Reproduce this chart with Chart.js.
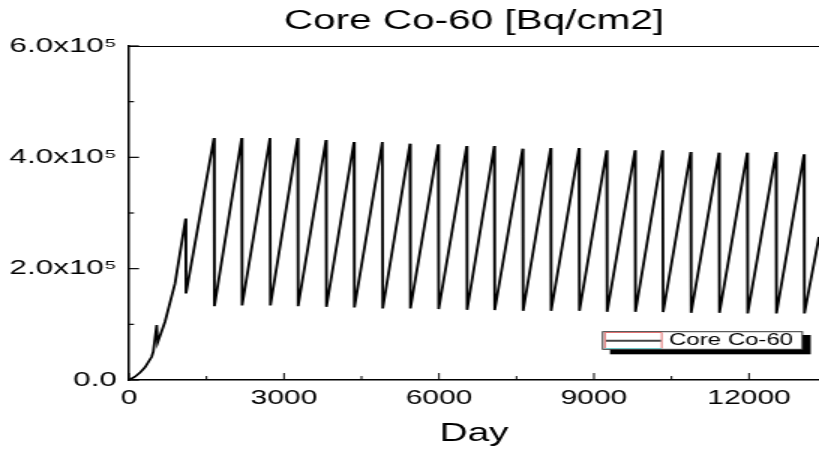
<!DOCTYPE html>
<html><head><meta charset="utf-8">
<script src="https://cdn.jsdelivr.net/npm/chart.js@4.4.1/dist/chart.umd.min.js"></script>
<style>html,body{margin:0;padding:0;background:#fff;overflow:hidden}</style>
</head><body>
<canvas id="c" width="546" height="451" style="width:819px;height:451px"></canvas>
<script>
// ---- data ----
const days = [0,116,220,310,439,470,536,555,697,890,1097,1103,
  1645,1653, 2181,2189, 2729,2737, 3265,3273, 3813,3821, 4355,4363,
  4903,4911, 5439,5447, 5986,5994, 6536,6544, 7070,7078, 7620,7628,
  8162,8170, 8710,8718, 9246,9254, 9794,9802, 10330,10338, 10872,10880,
  11420,11428, 11967,11975, 12523,12531, 13065,13073, 13355];
const coreCo60 = [0,5900,14000,22800,41800,50800,98700,67600,104600,173000,290000,155500,
  434600,132700, 434600,134000, 434600,134000, 434600,132700, 431000,131500, 427400,130400,
  427400,128600, 424600,128600, 423300,127400, 420300,126100, 420300,125600, 415600,124300,
  416700,124300, 416700,124300, 412600,122500, 412600,122500, 412600,122000, 409500,120700,
  408400,120700, 408400,119600, 409500,119600, 405400,119600, 257000];
const xTickValues = [0,3000,6000,9000,12000];
const xTickLabels = ['0','3000','6000','9000','12000'];
const xMinorTicks = [1500,4500,7500,10500];
const yTickValues = [0,200000,400000,600000];
const yTickLabels = ['0.0','2.0x10\u2075','4.0x10\u2075','6.0x10\u2075'];
const yMinorTicks = [100000,300000,500000];
const seriesLabel = 'Core Co-60';
const chartTitle = 'Core Co-60 [Bq/cm2]';
const xTitle = 'Day';

const SX = 1.5; // canvas is stretched horizontally by CSS, like the reference
const FONT = "'Liberation Sans', Arial, Helvetica, sans-serif";

const decor = {
  id: 'decor',
  afterDraw(chart) {
    const {ctx, chartArea: a, scales: {x, y}} = chart;
    ctx.save();
    ctx.strokeStyle = '#000';
    // top frame line
    ctx.lineWidth = 1.2;
    ctx.beginPath(); ctx.moveTo(a.left, a.top + 0.5); ctx.lineTo(a.right, a.top + 0.5); ctx.stroke();
    // inward ticks on y
    y.ticks.forEach(t => {
      const major = yTickValues.includes(t.value);
      const py = y.getPixelForValue(t.value);
      const len = (major ? 10 : 5) / SX;
      ctx.lineWidth = 1.2;
      ctx.beginPath(); ctx.moveTo(a.left, py); ctx.lineTo(a.left + len, py); ctx.stroke();
    });
    // inward ticks on x
    x.ticks.forEach(t => {
      const major = xTickValues.includes(t.value);
      const px = x.getPixelForValue(t.value);
      const len = major ? 7 : 4;
      ctx.lineWidth = 1;
      ctx.beginPath(); ctx.moveTo(px, a.bottom); ctx.lineTo(px, a.bottom - len); ctx.stroke();
    });
    // legend with shadow
    const lx0 = 602.7 / SX, lx1 = 802.3 / SX, ly0 = 331.7, ly1 = 349.3;
    ctx.fillStyle = '#000';
    ctx.fillRect(610 / SX, 335, (810.7 - 610) / SX, 354.3 - 335);
    ctx.fillStyle = '#fff';
    ctx.fillRect(lx0, ly0, lx1 - lx0, ly1 - ly0);
    ctx.lineWidth = 1; ctx.strokeStyle = '#333';
    ctx.strokeRect(lx0, ly0, lx1 - lx0, ly1 - ly0);
    ctx.strokeStyle = '#e07070';
    ctx.beginPath();
    ctx.moveTo(605 / SX, 348.5); ctx.lineTo(605 / SX, 332.5); ctx.lineTo(661.7 / SX, 332.5); ctx.lineTo(661.7 / SX, 348.5);
    ctx.stroke();
    ctx.strokeStyle = '#70c8c8';
    ctx.beginPath(); ctx.moveTo(605 / SX, 348.5); ctx.lineTo(661.7 / SX, 348.5); ctx.stroke();
    ctx.strokeStyle = '#444'; ctx.lineWidth = 2;
    ctx.beginPath(); ctx.moveTo(606 / SX, 340.7); ctx.lineTo(661 / SX, 340.7); ctx.stroke();
    ctx.fillStyle = '#000';
    ctx.font = '16px ' + FONT;
    ctx.textBaseline = 'middle';
    ctx.textAlign = 'left';
    ctx.fillText(chart.data.datasets[0].label, 669 / SX, 341);
    ctx.restore();
  }
};

new Chart(document.getElementById('c'), {
  type: 'line',
  data: {
    datasets: [{
      label: seriesLabel,
      data: days.map((d, i) => ({x: d, y: coreCo60[i]})),
      borderColor: '#000',
      borderWidth: 1.8,
      pointRadius: 0,
      tension: 0,
      fill: false
    }]
  },
  options: {
    responsive: false,
    animation: false,
    devicePixelRatio: 1,
    layout: {padding: 0},
    plugins: {
      legend: {display: false},
      tooltip: {enabled: false},
      title: {
        display: true, text: chartTitle, fullSize: false, color: '#000',
        font: {family: FONT, size: 27, weight: 'normal'},
        padding: {top: 5, bottom: 8.6}
      }
    },
    scales: {
      x: {
        type: 'linear', min: 0, max: 13355,
        afterFit(s) { s.height = 71; },
        afterBuildTicks(s) {
          s.ticks = xTickValues.concat(xMinorTicks).sort((p, q) => p - q).map(v => ({value: v}));
        },
        grid: {display: false, drawTicks: false},
        border: {display: true, color: '#000', width: 1.5},
        ticks: {
          autoSkip: false, maxRotation: 0, minRotation: 0,
          padding: 6, color: '#000', font: {family: FONT, size: 20},
          callback: (v) => { const i = xTickValues.indexOf(v); return i >= 0 ? xTickLabels[i] : ''; }
        },
        title: {display: true, text: xTitle, color: '#000', font: {family: FONT, size: 26}, padding: {top: 0, bottom: 2}}
      },
      y: {
        type: 'linear', min: 0, max: 600000,
        afterFit(s) { s.width = 86; },
        afterBuildTicks(s) {
          s.ticks = yTickValues.concat(yMinorTicks).sort((p, q) => p - q).map(v => ({value: v}));
        },
        grid: {display: false, drawTicks: false},
        border: {display: true, color: '#000', width: 1.5},
        ticks: {
          autoSkip: false, padding: 8, color: '#000', font: {family: FONT, size: 21},
          callback: (v) => { const i = yTickValues.indexOf(v); return i >= 0 ? yTickLabels[i] : ''; }
        }
      }
    }
  },
  plugins: [decor]
});
</script>
</body></html>
